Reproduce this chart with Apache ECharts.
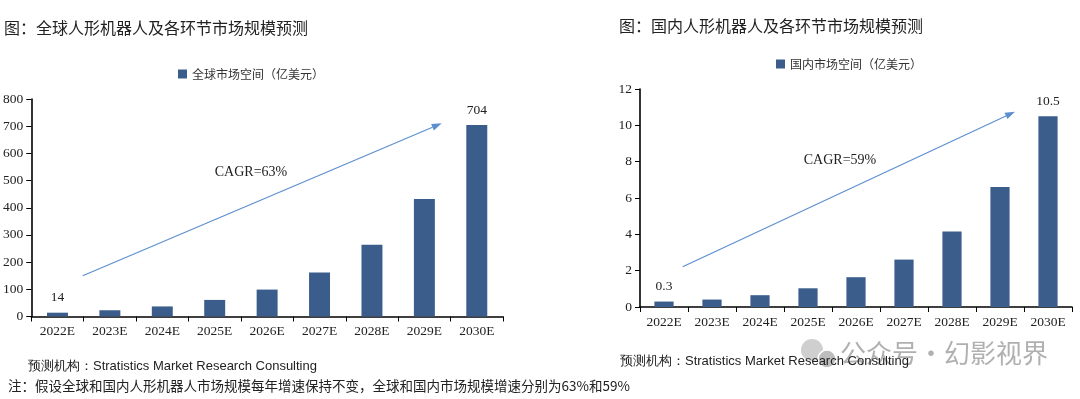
<!DOCTYPE html>
<html lang="zh">
<head>
<meta charset="UTF-8">
<title>人形机器人市场规模预测</title>
<script src="https://cdn.jsdelivr.net/npm/echarts@6/dist/echarts.min.js"></script>
<style>
    html, body { margin: 0; padding: 0; background: #fff; }
    #chart { width: 1080px; height: 399px; }
</style>
</head>
<body>
<div id="chart"></div>
<script>
    // data
    var years = ['2022E', '2023E', '2024E', '2025E', '2026E', '2027E', '2028E', '2029E', '2030E'];
    var globalValues = [14, 23, 37, 61, 99, 162, 264, 432, 704];
    var chinaValues = [0.3, 0.41, 0.65, 1.03, 1.64, 2.61, 4.15, 6.6, 10.5];
    var globalName = '全球市场空间（亿美元）';
    var chinaName = '国内市场空间（亿美元）';
    var globalTitle = '图：全球人形机器人及各环节市场规模预测';
    var chinaTitle = '图：国内人形机器人及各环节市场规模预测';
    var globalCagr = 'CAGR=63%';
    var chinaCagr = 'CAGR=59%';
    var source = '预测机构：Stratistics Market Research Consulting';
    var note = '注：假设全球和国内人形机器人市场规模每年增速保持不变，全球和国内市场规模增速分别为63%和59%';

    var barColor = '#3a5d8b';
    var arrowColor = '#5d8fd0';
    var serif = '"Liberation Serif", "Times New Roman", serif';
    var cjk = '"Noto Sans CJK SC", sans-serif';

    var chart = echarts.init(document.getElementById('chart'));

    function withEndLabels(values) {
        return values.map(function (v, i) {
            var show = (i === 0 || i === values.length - 1);
            return { value: v, label: { show: show } };
        });
    }

    function xAxisFor(idx) {
        return {
            type: 'category',
            gridIndex: idx,
            data: years,
            axisLine: { lineStyle: { color: '#000', width: 1.6 } },
            axisTick: { show: true, length: 5, lineStyle: { color: '#000' } },
            axisLabel: { color: '#222', fontFamily: serif, fontSize: 13.5, margin: 8, interval: 0 }
        };
    }

    function yAxisFor(idx, max, interval) {
        return {
            type: 'value',
            gridIndex: idx,
            min: 0,
            max: max,
            interval: interval,
            axisLine: { show: true, lineStyle: { color: '#000', width: 1.6 } },
            axisTick: { show: true, length: 5, lineStyle: { color: '#000' } },
            splitLine: { show: false },
            axisLabel: { color: '#222', fontFamily: serif, fontSize: 13.5, margin: 8 }
        };
    }

    function barSeries(name, idx, values) {
        return {
            name: name,
            type: 'bar',
            xAxisIndex: idx,
            yAxisIndex: idx,
            barWidth: '40%',
            itemStyle: { color: barColor },
            label: { position: 'top', distance: 8, color: '#222', fontFamily: serif, fontSize: 13.5 },
            data: withEndLabels(values)
        };
    }

    // trend arrow (annotation only)
    function arrow(x1, y1, x2, y2) {
        var dx = x2 - x1, dy = y2 - y1;
        var len = Math.sqrt(dx * dx + dy * dy);
        var ux = dx / len, uy = dy / len;
        var hl = 10, hw = 3.5;
        var bx = x2 - ux * hl, by = y2 - uy * hl;
        return [
            { type: 'line', shape: { x1: x1, y1: y1, x2: bx, y2: by },
              style: { stroke: arrowColor, lineWidth: 1.2 } },
            { type: 'polygon', shape: { points: [[x2, y2], [bx - uy * hw, by + ux * hw], [bx + uy * hw, by - ux * hw]] },
              style: { fill: arrowColor } }
        ];
    }

    function text(x, y, str, size, family, color, align) {
        return {
            type: 'text', x: x, y: y,
            style: { text: str, fontSize: size, fontFamily: family, fill: color,
                     align: align || 'left', verticalAlign: 'middle' }
        };
    }

    var graphics = [
        text(4, 28, globalTitle, 16, cjk, '#222'),
        text(619, 26, chinaTitle, 16, cjk, '#222'),
        text(251, 172, globalCagr, 14, serif, '#222', 'center'),
        text(840, 160, chinaCagr, 14, serif, '#222', 'center'),
        // watermark
        { type: 'circle', shape: { cx: 812, cy: 350, r: 11 }, style: { fill: '#cfcfcf' } },
        { type: 'circle', shape: { cx: 827, cy: 359, r: 9 }, style: { fill: '#bdbdbd', stroke: '#fff', lineWidth: 1.5 } },
        text(840, 353, '公众号·幻影视界', 26, cjk, 'rgba(150,150,150,0.75)'),
        text(28, 366, source, 13, '"Liberation Sans Narrow", "Liberation Sans", sans-serif', '#222'),
        text(620, 361, source, 13, '"Liberation Sans Narrow", "Liberation Sans", sans-serif', '#222'),
        text(8, 386, note, 13.5, cjk, '#222')
    ].concat(arrow(82.7, 275.7, 441.7, 123.3), arrow(682.7, 266.7, 1015, 111.7));

    var option = {
        animation: false,
        legend: [
            {
                data: [globalName], left: 173, top: 63,
                itemWidth: 9, itemHeight: 9, icon: 'rect',
                textStyle: { fontFamily: cjk, fontSize: 12, color: '#333' }
            },
            {
                data: [chinaName], left: 771, top: 53,
                itemWidth: 9, itemHeight: 9, icon: 'rect',
                textStyle: { fontFamily: cjk, fontSize: 12, color: '#333' }
            }
        ],
        grid: [
            { left: 27, right: 577, top: 99, bottom: 82.5 },
            { left: 640, right: 8, top: 89, bottom: 92 }
        ],
        xAxis: [xAxisFor(0), xAxisFor(1)],
        yAxis: [yAxisFor(0, 800, 100), yAxisFor(1, 12, 2)],
        series: [
            barSeries(globalName, 0, globalValues),
            barSeries(chinaName, 1, chinaValues)
        ],
        graphic: graphics
    };

    chart.setOption(option);
</script>
</body>
</html>
